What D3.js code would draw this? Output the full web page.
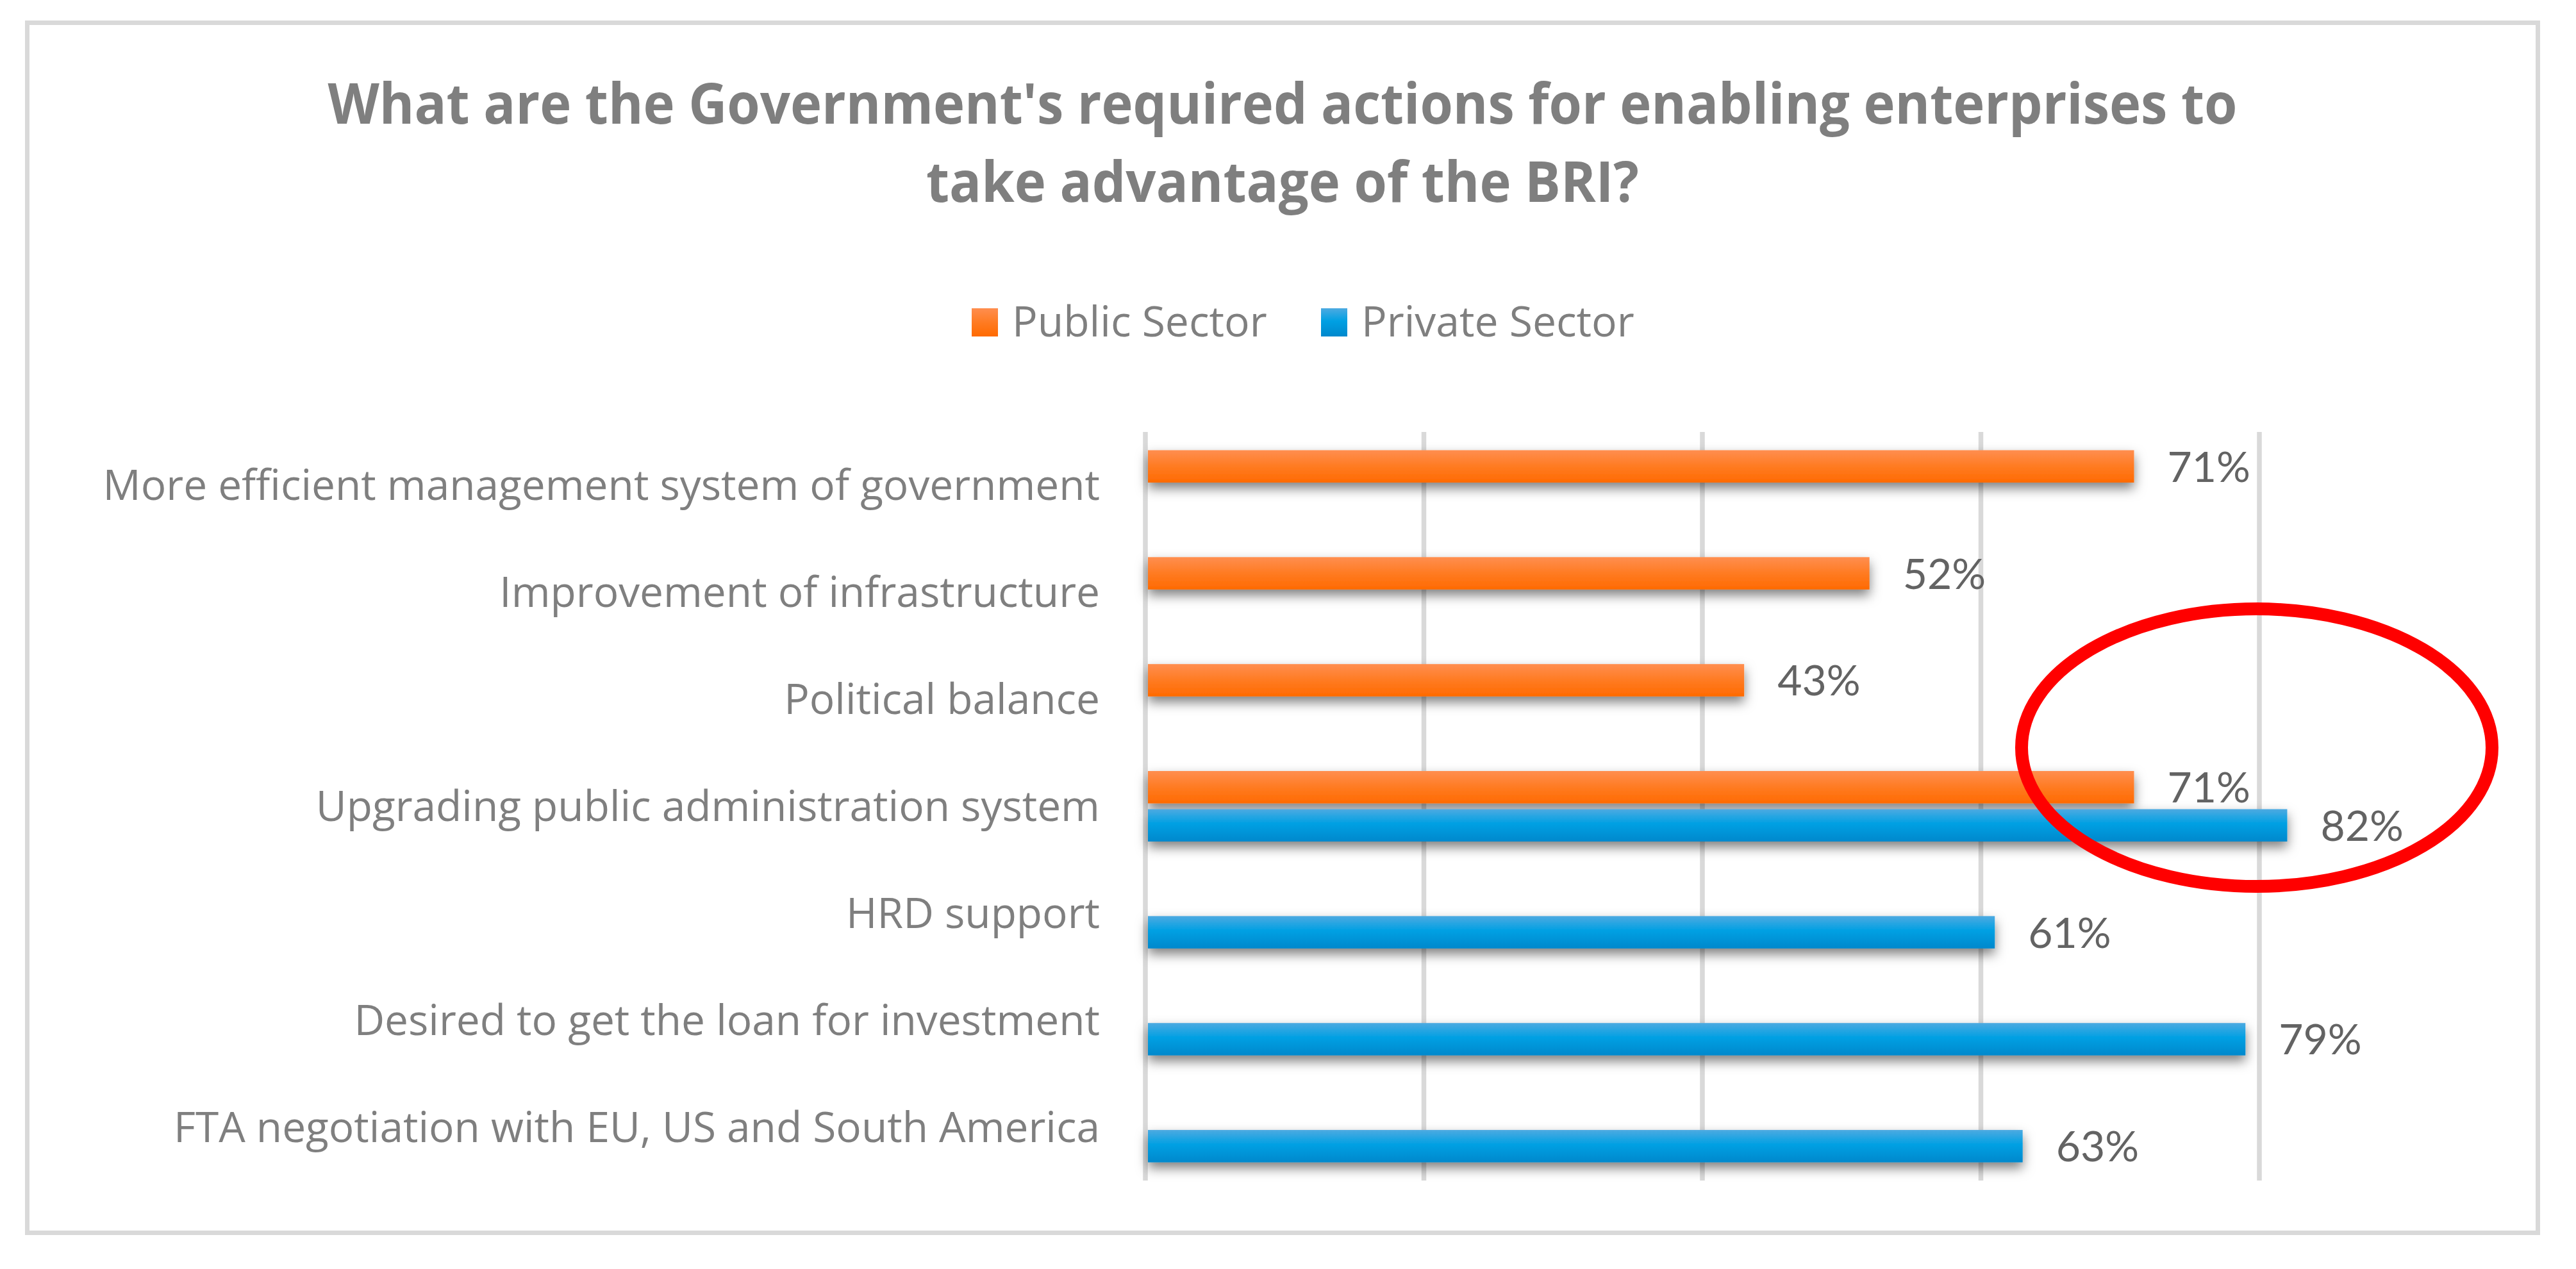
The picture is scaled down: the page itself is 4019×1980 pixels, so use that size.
<!DOCTYPE html>
<html>
<head>
<meta charset="utf-8">
<script src="https://cdn.jsdelivr.net/npm/d3@7"></script>
<style>
  html, body { margin: 0; padding: 0; background: #ffffff; }
  svg { display: block; }
</style>
</head>
<body>
<svg id="chart" width="4019" height="1980"></svg>
<script>
// ---------------- DATA ----------------
const titleLines = [
  "What are the Government's required actions for enabling enterprises to",
  "take advantage of the BRI?"
];
const categories = [
  "More efficient management system of government",
  "Improvement of infrastructure",
  "Political balance",
  "Upgrading public administration system",
  "HRD support",
  "Desired to get the loan for investment",
  "FTA negotiation with EU, US and South America"
];
const seriesNames = ["Public Sector", "Private Sector"];
const publicValues  = [0.71, 0.52, 0.43, 0.71, null, null, null];
const privateValues = [null, null, null, 0.82, 0.61, 0.79, 0.63];
const gridTicks = [0, 0.2, 0.4, 0.6, 0.8];

// ---------------- LAYOUT ----------------
const W = 4019, H = 1980;
const svg = d3.select("#chart");
const defs = svg.append("defs");

const grads = {
  "Public Sector": ["pubGrad", [["0%", "#FF8E4F"], ["50%", "#FF7B22"], ["100%", "#FF6A00"]]],
  "Private Sector": ["priGrad", [["0%", "#4DAAE1"], ["45%", "#00A0E3"], ["100%", "#0088CC"]]]
};
Object.values(grads).forEach(([id, stops]) => {
  const g = defs.append("linearGradient").attr("id", id)
    .attr("x1", 0).attr("y1", 0).attr("x2", 0).attr("y2", 1);
  stops.forEach(([o, c]) => g.append("stop").attr("offset", o).attr("stop-color", c));
});
const f = defs.append("filter").attr("id", "shadow")
  .attr("x", "-10%").attr("y", "-120%").attr("width", "125%").attr("height", "340%");
f.append("feDropShadow").attr("dx", 0).attr("dy", 9).attr("stdDeviation", 9)
  .attr("flood-color", "#000").attr("flood-opacity", 0.5);

// chart border
svg.append("rect")
  .attr("x", 42.5).attr("y", 35.5).attr("width", 3917).attr("height", 1888)
  .attr("fill", "#fff").attr("stroke", "#D9D9D9").attr("stroke-width", 7);

// title (widths fitted to the reference line lengths)
const titleWidths = [2979, 1112];
const title = svg.append("text")
  .attr("text-anchor", "middle")
  .attr("font-family", "'Open Sans', sans-serif")
  .attr("font-weight", 700)
  .attr("font-size", 88)
  .attr("fill", "#7F7F7F");
titleLines.forEach((t, i) => {
  const ts = title.append("tspan").attr("x", 2001).attr("y", 193 + i * 122).text(t);
  const w = ts.node().getComputedTextLength();
  if (Math.abs(w - titleWidths[i]) > 10) {
    ts.attr("textLength", titleWidths[i]).attr("lengthAdjust", "spacingAndGlyphs");
  }
});

// scales
const x = d3.scaleLinear().domain([0, 0.8]).range([1787, 3525]);
const y = d3.scaleBand().domain(categories).range([674, 1842]).padding(0);
const bw = y.bandwidth();
const groupH = 110;
const ySub = d3.scaleBand().domain(seriesNames)
  .range([(bw - groupH) / 2, (bw + groupH) / 2])
  .paddingInner(0.151).paddingOuter(0);

// gridlines
svg.append("g").selectAll("line").data(gridTicks).join("line")
  .attr("x1", d => x(d)).attr("x2", d => x(d))
  .attr("y1", 674).attr("y2", 1842)
  .attr("stroke", "#D9D9D9").attr("stroke-width", 7.5);

// category labels
const catG = svg.append("g")
  .attr("font-family", "'Open Sans', sans-serif")
  .attr("fill", "#7F7F7F");
let catSize = 64;
const catText = catG.selectAll("text").data(categories).join("text")
  .attr("x", 1716)
  .attr("y", d => y(d) + bw / 2 + 23)
  .attr("text-anchor", "end")
  .attr("font-size", catSize)
  .text(d => d);
// fit font size so the longest label matches the reference width (~1556px)
const w0 = catText.nodes()[0].getComputedTextLength();
if (w0 > 0) {
  catSize = Math.max(58, Math.min(70, catSize * 1556 / w0));
  catText.attr("font-size", catSize);
}

// bars
const rows = [];
categories.forEach((c, i) => {
  if (publicValues[i] != null) rows.push({ cat: c, s: "Public Sector", v: publicValues[i] });
  if (privateValues[i] != null) rows.push({ cat: c, s: "Private Sector", v: privateValues[i] });
});
svg.append("g").selectAll("rect").data(rows).join("rect")
  .attr("x", x(0) + 4)
  .attr("y", d => y(d.cat) + ySub(d.s))
  .attr("width", d => x(d.v) - x(0) - 4)
  .attr("height", ySub.bandwidth())
  .attr("fill", d => `url(#${grads[d.s][0]})`)
  .attr("filter", "url(#shadow)");

// data labels
const fmt = d3.format(".0%");
svg.append("g").selectAll("text").data(rows).join("text")
  .attr("x", d => x(d.v) + 52)
  .attr("y", d => y(d.cat) + ySub(d.s) + ySub.bandwidth() / 2 + 24)
  .attr("font-family", "Lato, sans-serif")
  .attr("font-size", 66)
  .attr("fill", "#636363")
  .text(d => fmt(d.v));

// legend
const legendX = [1516, 2061];
const lg = svg.append("g").selectAll("g").data(seriesNames).join("g")
  .attr("transform", (d, i) => `translate(${legendX[i]},481)`);
lg.append("rect").attr("width", 41).attr("height", 44)
  .attr("fill", d => `url(#${grads[d][0]})`);
lg.append("text").attr("x", 63).attr("y", 44)
  .attr("font-family", "'Open Sans', sans-serif")
  .attr("font-size", 66)
  .attr("fill", "#7F7F7F")
  .text(d => d);

// annotation ellipse (around 80% gridline between rows 3 and 4)
const annY = y(categories[3]) - 8;
svg.append("ellipse")
  .attr("cx", x(0.8) - 4).attr("cy", annY)
  .attr("rx", 367).attr("ry", 216.5)
  .attr("fill", "none").attr("stroke", "#FF0000").attr("stroke-width", 20);
</script>
</body>
</html>
